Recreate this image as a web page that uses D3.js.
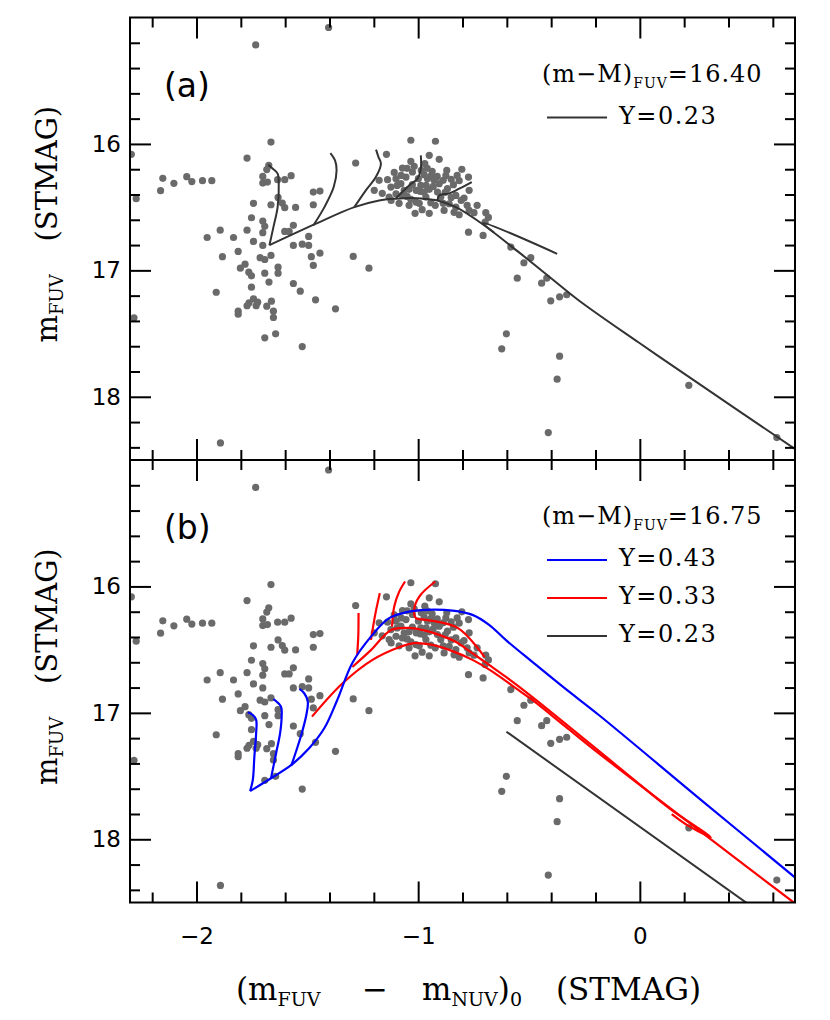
<!DOCTYPE html>
<html>
<head>
<meta charset="utf-8">
<script src="https://cdn.jsdelivr.net/npm/d3@7"></script>
<style>
  body { margin: 0; background: #fff; }
  svg { display: block; }
</style>
</head>
<body>
<svg id="chart" width="830" height="1020"></svg>
<script>
// observed stars: colour (m_FUV - m_NUV)_0 and m_FUV, same in both panels
const starColor = [-1.664,-2.294,-1.772,-1.282,-1.674,-1.683,-2.152,-2.044,-2.102,-2.021,-1.973,-1.931,-1.701,-1.701,-1.680,-1.634,-1.602,-1.573,-2.162,-2.272,
  -1.473,-1.443,-1.632,-1.743,-1.664,-1.613,-1.602,-1.553,-1.473,-1.752,-1.701,-1.692,-1.893,-1.772,-1.701,-1.602,-1.582,-1.563,-1.952,-1.833,
  -1.743,-1.701,-1.563,-1.523,-1.494,-1.494,-1.812,-1.883,-1.713,-1.692,-1.664,-1.482,-1.443,-1.293,-1.473,-1.781,-1.802,-1.764,-1.752,-1.692,
  -1.632,-1.632,-1.673,-1.563,-1.752,-1.911,-1.532,-1.743,-1.724,-1.763,-1.772,-1.731,-1.683,-1.662,-1.812,-1.812,-1.653,-1.653,-1.463,-1.373,
  -2.282,-1.692,-1.643,-1.523,-1.222,-1.892,-1.404,-1.733,-1.143,-0.982,
  -1.033,-0.922,-0.950,-0.905,-1.033,-0.970,-1.071,-0.871,-0.803,-1.026,-0.973,-0.943,-0.875,-0.773,-1.138,-1.100,-1.055,-0.999,-0.958,-0.928,
  -0.815,-1.123,-1.078,-1.026,-0.988,-0.905,-0.841,-1.198,-1.100,-1.041,-0.991,-0.950,-0.913,-0.868,-0.770,-1.131,-1.071,-1.033,-0.965,-0.898,
  -0.830,-0.793,-1.010,-0.943,-0.860,-0.830,-0.770,-0.748,-0.815,-0.695,-0.683,-0.698,-0.773,-0.707,-0.582,-0.492,-0.523,-0.553,-0.443,-0.420,
  -0.402,-0.362,-0.330,-0.602,-0.623,-0.362,-0.373,-0.413,0.221,0.618,
  -1.108,-1.077,-1.050,-1.018,-0.986,-0.959,-0.937,-0.914,-0.887,-0.851,-0.824,-1.095,-1.063,-1.009,-0.964,-0.932,-0.878,-0.851,-1.122,-1.086,
  -1.041,-0.995,-0.923,-0.887,-0.806,-0.779,-1.162,-1.176,-1.014,-0.950,-0.883,-0.838,-0.734,-1.050,-0.973];
const starMag = [15.985,16.082,16.112,16.151,16.169,16.203,16.272,16.259,16.312,16.298,16.291,16.291,16.257,16.310,16.302,16.283,16.283,16.251,16.370,16.433,
  16.381,16.373,16.423,16.470,16.481,16.468,16.504,16.502,16.481,16.584,16.610,16.652,16.682,16.682,16.702,16.692,16.692,16.644,16.740,16.740,
  16.771,16.803,16.803,16.793,16.803,16.732,16.850,16.892,16.900,16.914,16.882,16.892,16.864,16.890,16.961,16.951,16.983,17.014,17.043,17.022,
  16.975,17.022,17.093,17.104,17.133,17.173,17.165,17.225,17.252,17.257,17.280,17.280,17.283,17.244,17.323,17.347,17.323,17.373,17.233,17.304,
  17.375,17.534,17.502,17.603,16.983,18.365,15.079,15.217,16.082,16.520,
  15.971,15.979,16.090,16.122,16.138,16.156,16.191,16.209,16.201,16.222,16.243,16.254,16.249,16.262,16.283,16.275,16.262,16.275,16.275,16.288,
  16.291,16.341,16.314,16.322,16.328,16.314,16.322,16.367,16.394,16.359,16.375,16.359,16.381,16.354,16.367,16.420,16.407,16.439,16.420,16.420,
  16.407,16.428,16.460,16.465,16.473,16.500,16.526,16.544,16.560,16.544,16.581,16.618,16.698,16.724,16.816,16.900,16.940,17.062,17.101,17.062,
  17.241,17.209,17.193,17.502,17.621,17.679,17.861,18.283,17.909,18.323,
  16.225,16.249,16.193,16.177,16.209,16.193,16.217,16.257,16.288,16.280,16.249,16.328,16.367,16.367,16.328,16.336,16.383,16.423,16.447,16.470,
  16.486,16.470,16.486,16.470,16.447,16.486,16.391,16.288,16.549,16.549,16.526,16.541,16.486,16.415,16.383];

// panel (a): Y=0.23 isochrone, (m-M)=16.40
const topMain = [[-1.671,16.801],[-1.461,16.631],[-1.288,16.500],[-1.176,16.447],[-1.100,16.433],[-1.026,16.428],[-0.981,16.433],[-0.913,16.447],
  [-0.830,16.500],[-0.712,16.631],[-0.545,16.858],[-0.410,17.048],[-0.275,17.238],[-0.005,17.571],[0.266,17.896],[0.698,18.411]];
const topBranch1 = [[-1.671,16.801],[-1.653,16.658],[-1.634,16.500],[-1.629,16.314],[-1.634,16.235],[-1.656,16.196],[-1.676,16.164]];
const topBranch2 = [[-1.473,16.645],[-1.423,16.500],[-1.381,16.341],[-1.368,16.209],[-1.375,16.130],[-1.396,16.072]];
const topBranch3 = [[-1.288,16.500],[-1.236,16.367],[-1.191,16.262],[-1.168,16.156],[-1.179,16.104],[-1.190,16.045]];
const topBranch4 = [[-1.100,16.430],[-1.041,16.328],[-1.003,16.275],[-0.988,16.196],[-0.988,16.090]];
const topBranch5 = [[-0.913,16.447],[-0.905,16.407],[-0.860,16.391],[-0.815,16.354],[-0.758,16.302]];
const topBranch6 = [[-0.658,16.700],[-0.707,16.625],[-0.373,16.869]];

// panel (b): (m-M)=16.75
const blueMain = [[-1.758,17.618],[-1.662,17.515],[-1.572,17.412],[-1.491,17.278],[-1.423,17.120],[-1.365,16.898],[-1.297,16.605],[-1.213,16.397],
  [-1.131,16.251],[-1.041,16.199],[-0.965,16.185],[-0.845,16.191],[-0.755,16.225],[-0.680,16.304],[-0.605,16.423],[-0.485,16.597],[-0.335,16.811],
  [-0.185,17.017],[0.266,17.674],[0.698,18.299]];
const blueBranch1 = [[-1.758,17.618],[-1.746,17.531],[-1.739,17.347],[-1.731,17.162],[-1.731,17.056],[-1.746,17.017],[-1.769,16.995]];
const blueBranch2 = [[-1.664,17.518],[-1.641,17.320],[-1.623,17.162],[-1.616,17.030],[-1.619,16.951],[-1.653,16.892]];
const blueBranch3 = [[-1.573,17.420],[-1.544,17.268],[-1.521,17.135],[-1.503,17.003],[-1.498,16.911],[-1.514,16.845],[-1.536,16.811]];
const redLower = [[-1.479,17.030],[-1.341,16.766],[-1.206,16.581],[-1.086,16.481],[-1.018,16.449],[-0.936,16.462],[-0.860,16.502],[-0.755,16.581],
  [-0.665,16.674],[-0.560,16.805],[-0.485,16.898],[-0.335,17.109],[-0.185,17.320],[0.266,17.927],[0.716,18.529]];
const redUpper = [[-1.297,16.637],[-1.212,16.502],[-1.122,16.344],[-1.041,16.328],[-0.982,16.344],[-0.905,16.383],[-0.829,16.439],[-0.757,16.526],
  [-0.680,16.621],[-0.604,16.716],[-0.486,16.874],[-0.063,17.476],[0.144,17.769],[0.266,17.914],[0.320,17.983],[0.221,17.896],[0.144,17.801]];
const redBranch1 = [[-1.275,16.541],[-1.270,16.383],[-1.269,16.211]];
const redBranch2 = [[-1.213,16.423],[-1.194,16.225],[-1.173,16.053]];
const redBranch3 = [[-1.118,16.317],[-1.108,16.159],[-1.086,16.043],[-1.059,15.961]];
const redBranch4 = [[-0.700,16.560],[-0.820,16.330],[-0.965,16.264],[-1.010,16.251],[-1.018,16.185],[-0.995,16.080],[-0.923,15.961]];
const blackBottom = [[-0.602,17.149],[0.491,18.515]];

const xMajor = [-2, -1, 0];
const yMajor = [16, 17, 18];

const svg = d3.select("#chart");
const left = 130, right = 795;
const x = d3.scaleLinear().domain([-2.3, 0.7]).range([left, right]);
const yTop = d3.scaleLinear().domain([15, 18.5]).range([17.5, 460]);
const yBot = d3.scaleLinear().domain([15, 18.5]).range([460, 902.5]);

const xMinor = d3.range(-2.2, 0.7, 0.2).map(v => +v.toFixed(1)).filter(v => !xMajor.includes(v));
const yMinor = d3.range(15.2, 18.5, 0.2).map(v => +v.toFixed(1)).filter(v => !yMajor.includes(v));

const serif = "'DejaVu Serif', serif";
const sans = "'DejaVu Sans', sans-serif";

// text pieces placed one after another; parts = [[string, isSub, x?], ...]
function richText(sel, parts, size, subSize, drop) {
  let shift = 0;
  parts.forEach(([s, sub, px]) => {
    const target = sub ? drop : 0;
    const t = sel.append("tspan")
      .attr("dy", target - shift)
      .attr("font-size", sub ? subSize : size)
      .text(s);
    if (px !== undefined) t.attr("x", px);
    shift = target;
  });
}

function drawPanel(y, opts) {
  const g = svg.append("g");
  const top = y.range()[0], bottom = y.range()[1];
  const clipId = "clip" + opts.tag;
  g.append("clipPath").attr("id", clipId)
    .append("rect").attr("x", left).attr("y", top).attr("width", right - left).attr("height", bottom - top);

  const plot = g.append("g").attr("clip-path", `url(#${clipId})`);

  // stars
  plot.selectAll("circle")
    .data(d3.zip(starColor, starMag))
    .enter()
    .append("circle")
    .attr("cx", d => x(d[0]))
    .attr("cy", d => y(d[1]))
    .attr("r", 3.6)
    .style("fill", "#6a6a6a");

  const line = d3.line().x(d => x(d[0])).y(d => y(d[1])).curve(d3.curveCatmullRom.alpha(0.5));
  opts.curves.forEach(c => {
    plot.append("path")
      .attr("d", line(c.pts))
      .style("fill", "none")
      .style("stroke", c.color)
      .style("stroke-width", c.width)
      .style("stroke-linejoin", "round");
  });

  // ticks on all four sides, pointing inward
  const axes = [
    [d3.axisBottom(x), `translate(0,${bottom})`, xMajor, xMinor],
    [d3.axisTop(x), `translate(0,${top})`, xMajor, xMinor],
    [d3.axisLeft(y), `translate(${left},0)`, yMajor, yMinor],
    [d3.axisRight(y), `translate(${right},0)`, yMajor, yMinor]
  ];
  axes.forEach(([ax, tr, major, minor], i) => {
    const showLabels = (i === 2) || (i === 0 && opts.xLabels);
    g.append("g").attr("transform", tr)
      .call(ax.tickValues(major).tickSize(-21).tickPadding(i === 2 ? 9 : 25)
        .tickFormat(showLabels ? (d => d3.format("d")(d).replace("-", "\u2212")) : ""))
      .call(a => a.select(".domain").remove())
      .call(a => a.selectAll("line").style("stroke", "#000").style("stroke-width", 2))
      .call(a => a.selectAll("text").style("font-family", sans).style("font-size", "23px").style("fill", "#000"));
    g.append("g").attr("transform", tr)
      .call(ax.tickValues(minor).tickSize(-10).tickFormat(""))
      .call(a => a.select(".domain").remove())
      .call(a => a.selectAll("line").style("stroke", "#000").style("stroke-width", 2));
  });

  g.append("rect")
    .attr("x", left).attr("y", top).attr("width", right - left).attr("height", bottom - top)
    .style("fill", "none").style("stroke", "#000").style("stroke-width", 2);

  // panel letter
  g.append("text").attr("x", 164).attr("y", top + 79)
    .style("font-family", sans).style("font-size", "33px")
    .text(opts.letter);

  // legend
  const lg = g.append("text").attr("x", 542).attr("y", top + 64)
    .style("font-family", serif).style("fill", "#000").style("letter-spacing", "1px");
  richText(lg, [["(m\u2212M)", false], ["FUV", true], ["=" + opts.modulus, false]], 24, 14, 6);

  opts.legend.forEach((e, i) => {
    const yy = top + 106 + i * 38;
    g.append("line").attr("x1", 547).attr("x2", 607).attr("y1", yy - 6).attr("y2", yy - 6)
      .style("stroke", e.color).style("stroke-width", 2);
    g.append("text").attr("x", 619).attr("y", yy)
      .style("font-family", serif).style("font-size", "24px").style("letter-spacing", "1.5px")
      .text(e.label);
  });

  // y-axis title, read upward; x here runs up the page from the panel top
  const yt = g.append("text")
    .attr("transform", `translate(57,${top}) rotate(-90)`)
    .style("font-family", serif);
  richText(yt, [["m", false, -325], ["FUV", true], ["(STMAG)", false, -224]], 29, 18, 6);
}

const dark = "#333333";
drawPanel(yTop, {
  tag: "a", letter: "(a)", modulus: "16.40", xLabels: false,
  legend: [{ color: dark, label: "Y=0.23" }],
  curves: [topMain, topBranch1, topBranch2, topBranch3, topBranch4, topBranch5, topBranch6]
    .map(p => ({ pts: p, color: dark, width: 2 }))
});

drawPanel(yBot, {
  tag: "b", letter: "(b)", modulus: "16.75", xLabels: true,
  legend: [{ color: "#0000ff", label: "Y=0.43" }, { color: "#ff0000", label: "Y=0.33" }, { color: dark, label: "Y=0.23" }],
  curves: [
    ...[redLower, redUpper, redBranch1, redBranch2, redBranch3, redBranch4].map(p => ({ pts: p, color: "#ff0000", width: 2.2 })),
    ...[blueMain, blueBranch1, blueBranch2, blueBranch3].map(p => ({ pts: p, color: "#0000ff", width: 2.2 })),
    { pts: blackBottom, color: dark, width: 2 }
  ]
});

// x-axis title
const xt = svg.append("text").attr("y", 1000).style("font-family", serif);
richText(xt, [["(m", false, 236], ["FUV", true], ["\u2212", false, 362], ["m", false, 422], ["NUV", true],
  [")", false], ["0", true], ["(STMAG)", false, 556]], 31, 19, 6);
</script>
</body>
</html>
